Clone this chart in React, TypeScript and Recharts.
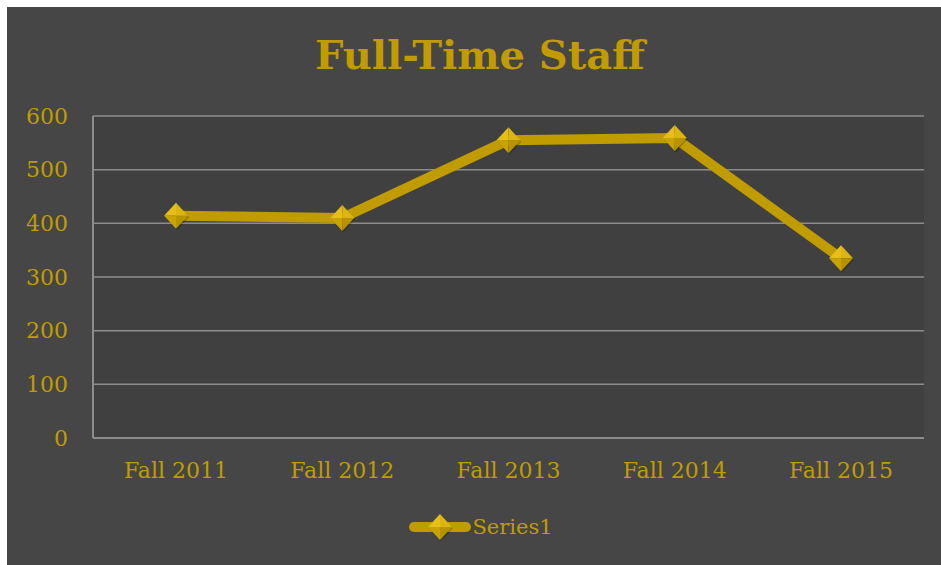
import React from 'react';
import { LineChart, Line, XAxis, YAxis, CartesianGrid, Legend } from 'recharts';

const categories = ['Fall 2011', 'Fall 2012', 'Fall 2013', 'Fall 2014', 'Fall 2015'];
const series1 = [414, 410, 555, 559, 335];
const yTicks = [0, 100, 200, 300, 400, 500, 600];
const seriesName = 'Series1';
const chartTitle = 'Full-Time Staff';

const data = categories.map((c, i) => ({ name: c, Series1: series1[i] }));

const GOLD = '#C09C00';
const FONT = '"DejaVu Serif", serif';

const Diamond = (props: any) => {
  const { cx, cy } = props;
  if (cx == null || cy == null) return null;
  const w = 12, h = 13;
  return (
    <g>
      <polygon points={`${cx + 1},${cy - h + 1.5} ${cx + w + 1},${cy + 1.5} ${cx + 1},${cy + h + 1.5} ${cx - w + 1},${cy + 1.5}`} fill="rgba(0,0,0,0.2)" />
      <polygon points={`${cx},${cy - h} ${cx - w},${cy} ${cx},${cy}`} fill="#E6BE18" />
      <polygon points={`${cx},${cy - h} ${cx + w},${cy} ${cx},${cy}`} fill="#DDB512" />
      <polygon points={`${cx - w},${cy} ${cx},${cy + h} ${cx},${cy}`} fill="#C9A300" />
      <polygon points={`${cx + w},${cy} ${cx},${cy + h} ${cx},${cy}`} fill="#B79300" />
    </g>
  );
};

const LegendContent = () => (
  <div style={{ height: 30, display: 'flex', justifyContent: 'center', alignItems: 'center', paddingLeft: 30 }}>
    <svg width={64} height={30}>
      <line x1={6} y1={15} x2={58} y2={15} stroke={GOLD} strokeWidth={10} strokeLinecap="round" />
      <Diamond cx={32} cy={15} />
    </svg>
    <span style={{ fontFamily: FONT, fontSize: 21, color: GOLD }}>{seriesName}</span>
  </div>
);

export default function App() {
  return (
    <div style={{ position: 'absolute', left: 7, top: 7, width: 934, height: 558, background: '#464646' }}>
      <div
        style={{
          position: 'absolute',
          left: 0,
          width: 946,
          top: 24,
          textAlign: 'center',
          fontFamily: FONT,
          fontWeight: 'bold',
          fontSize: 40,
          color: '#C29B00',
          lineHeight: '48px',
        }}
      >
        {chartTitle}
      </div>
      <LineChart width={934} height={558} data={data} margin={{ top: 109, right: 17, left: 0, bottom: 23 }}>
        <CartesianGrid vertical={false} stroke="#8c8c8c" strokeWidth={1.5} fill="#404040" />
        <XAxis
          dataKey="name"
          type="category"
          padding={{ left: 83, right: 83 }}
          axisLine={{ stroke: '#8c8c8c', strokeWidth: 2 }}
          tickLine={false}
          tickMargin={18}
          height={74}
          tick={{ fill: GOLD, fontSize: 22, fontFamily: FONT }}
        />
        <YAxis
          width={86}
          domain={[0, 600]}
          ticks={yTicks}
          axisLine={{ stroke: '#8c8c8c', strokeWidth: 2 }}
          tickLine={false}
          tickMargin={19}
          tick={{ fill: GOLD, fontSize: 22, fontFamily: FONT }}
        />
        <Legend verticalAlign="bottom" height={30} content={<LegendContent />} />
        <Line
          type="linear"
          dataKey="Series1"
          name={seriesName}
          stroke={GOLD}
          strokeWidth={10}
          strokeLinejoin="round"
          dot={<Diamond />}
          activeDot={false}
          isAnimationActive={false}
        />
      </LineChart>
    </div>
  );
}
